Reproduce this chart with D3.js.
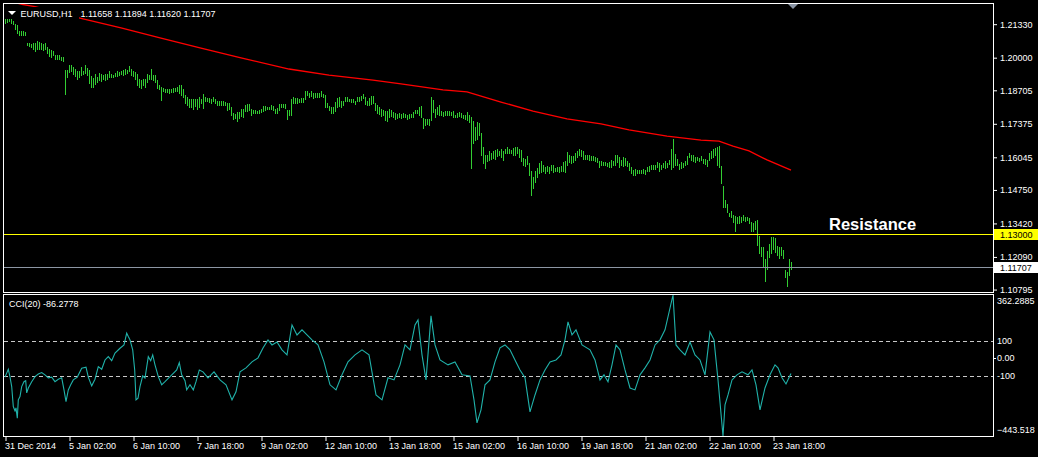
<!DOCTYPE html>
<html><head><meta charset="utf-8">
<script src="https://cdn.jsdelivr.net/npm/d3@7"></script>
<style>html,body{margin:0;padding:0;background:#000;overflow:hidden}</style>
</head><body>
<svg id="c" width="1038" height="457"></svg>
<script>
// ---------- DATA ----------
const symbolLabel = "EURUSD,H1";
const lastOHLC = [1.11658, 1.11894, 1.11620, 1.11707];
const highs = [
1.2152,1.2152,1.2155,1.2152,1.2147,1.2134,1.2129,1.2107,1.2105,1.2104,
1.2102,1.2059,1.2057,1.2054,1.2057,1.2057,1.2065,1.2062,1.2057,1.2054,
1.2057,1.2044,1.2033,1.2030,1.2028,1.2012,1.2009,1.2009,1.2004,1.2002,
1.1951,1.1951,1.1970,1.1970,1.1962,1.1954,1.1946,1.1948,1.1964,1.1948,
1.1970,1.1959,1.1951,1.1927,1.1919,1.1935,1.1925,1.1940,1.1935,1.1932,
1.1935,1.1935,1.1946,1.1935,1.1932,1.1938,1.1946,1.1943,1.1948,1.1951,
1.1954,1.1951,1.1967,1.1956,1.1948,1.1943,1.1935,1.1914,1.1911,1.1917,
1.1917,1.1935,1.1932,1.1956,1.1932,1.1930,1.1911,1.1893,1.1882,1.1880,
1.1877,1.1877,1.1877,1.1876,1.1880,1.1880,1.1882,1.1890,1.1890,1.1874,
1.1851,1.1843,1.1837,1.1837,1.1835,1.1837,1.1837,1.1845,
1.1835,1.1856,1.1843,1.1840,1.1840,1.1837,1.1845,1.1835,1.1827,1.1829,
1.1827,1.1827,1.1824,1.1821,1.1819,1.1803,1.1779,1.1776,1.1784,1.1784,
1.1795,1.1797,1.1813,1.1816,1.1816,1.1797,1.1792,1.1792,1.1790,1.1792,
1.1797,1.1808,1.1808,1.1805,1.1805,1.1811,1.1808,1.1795,1.1800,1.1816,
1.1816,1.1816,1.1815,1.1792,1.1792,1.1837,1.1845,1.1840,1.1840,1.1837,
1.1840,1.1839,1.1867,1.1867,1.1861,1.1867,1.1861,1.1859,1.1859,1.1861,
1.1867,1.1856,1.1853,1.1819,1.1808,1.1803,1.1803,1.1824,1.1840,1.1845,
1.1827,1.1829,1.1845,1.1845,1.1837,1.1835,1.1835,1.1829,1.1843,1.1843,
1.1848,1.1856,1.1843,1.1829,1.1840,1.1848,1.1848,1.1821,1.1811,1.1805,
1.1795,1.1792,1.1787,1.1790,1.1797,1.1792,1.1784,1.1779,1.1776,1.1779,
1.1776,1.1779,1.1776,1.1774,1.1776,1.1776,1.1784,1.1792,1.1792,1.1805,
1.1808,1.1761,1.1758,1.1755,1.1758,1.1843,1.1832,1.1795,1.1803,1.1811,
1.1787,1.1784,1.1787,1.1790,1.1790,1.1784,1.1787,1.1774,1.1779,1.1784,
1.1782,1.1771,1.1774,1.1784,1.1771,1.1763,1.1747,1.1726,1.1745,1.1740,
1.1702,1.1647,1.1612,1.1612,1.1631,1.1620,1.1628,1.1634,1.1636,1.1631,
1.1639,1.1628,1.1636,1.1644,1.1639,1.1634,1.1641,1.1644,1.1644,1.1639,
1.1634,1.1602,1.1599,1.1610,1.1583,1.1551,1.1527,1.1549,1.1562,1.1583,
1.1591,1.1575,1.1565,1.1570,1.1567,1.1573,1.1573,1.1562,1.1565,1.1565,
1.1570,1.1586,1.1589,1.1626,1.1615,1.1610,1.1610,1.1623,1.1631,1.1639,
1.1634,1.1628,1.1615,1.1612,1.1612,1.1610,1.1609,1.1607,1.1602,1.1591,
1.1589,1.1586,1.1586,1.1583,1.1586,1.1594,1.1591,1.1612,1.1615,1.1607,
1.1594,1.1604,1.1602,1.1591,1.1583,1.1567,1.1554,1.1557,1.1554,1.1554,
1.1554,1.1557,1.1554,1.1565,1.1570,1.1573,1.1575,1.1575,1.1586,1.1583,
1.1575,1.1581,1.1591,1.1583,1.1594,1.1636,1.1678,1.1618,1.1597,1.1578,
1.1586,1.1581,1.1591,1.1610,1.1623,1.1615,1.1612,1.1607,1.1604,1.1602,
1.1610,1.1599,1.1597,1.1594,1.1620,1.1628,1.1636,1.1641,1.1647,1.1649,
1.1570,1.1491,1.1435,1.1419,1.1385,1.1393,1.1377,1.1371,1.1369,1.1371,
1.1366,1.1374,1.1369,1.1366,1.1364,1.1348,1.1345,1.1351,1.1356,1.1292,
1.1247,1.1250,1.1200,1.1234,1.1260,1.1287,1.1287,1.1284,1.1252,1.1250,
1.1250,1.1237,1.1157,1.1149,1.1200,1.11894];
const lows = [
1.2139,1.2142,1.2144,1.2139,1.2134,1.2115,1.2097,1.2091,1.2091,1.2092,
1.2091,1.2051,1.2046,1.2041,1.2036,1.2028,1.2036,1.2033,1.2036,1.2030,
1.2033,1.2017,1.2007,1.2004,1.2009,1.1996,1.1996,1.1993,1.1991,1.1988,
1.1856,1.1922,1.1943,1.1946,1.1935,1.1927,1.1917,1.1922,1.1930,1.1935,
1.1938,1.1930,1.1898,1.1882,1.1885,1.1896,1.1903,1.1911,1.1909,1.1914,
1.1911,1.1917,1.1922,1.1925,1.1922,1.1927,1.1927,1.1930,1.1935,1.1932,
1.1935,1.1940,1.1946,1.1932,1.1927,1.1917,1.1893,1.1885,1.1880,1.1890,
1.1882,1.1903,1.1914,1.1917,1.1911,1.1903,1.1880,1.1874,1.1832,1.1867,
1.1864,1.1864,1.1861,1.1865,1.1864,1.1867,1.1869,1.1859,1.1851,1.1843,
1.1819,1.1813,1.1803,1.1805,1.1798,1.1808,1.1798,1.1805,
1.1819,1.1800,1.1827,1.1827,1.1824,1.1821,1.1827,1.1819,1.1811,1.1811,
1.1811,1.1813,1.1811,1.1792,1.1795,1.1774,1.1755,1.1761,1.1750,1.1761,
1.1768,1.1766,1.1790,1.1790,1.1792,1.1774,1.1779,1.1779,1.1779,1.1782,
1.1784,1.1790,1.1792,1.1795,1.1797,1.1797,1.1792,1.1782,1.1782,1.1792,
1.1803,1.1803,1.1801,1.1758,1.1771,1.1774,1.1819,1.1819,1.1821,1.1824,
1.1824,1.1823,1.1837,1.1851,1.1845,1.1848,1.1840,1.1843,1.1845,1.1845,
1.1848,1.1845,1.1805,1.1805,1.1792,1.1779,1.1782,1.1790,1.1803,1.1808,
1.1805,1.1813,1.1827,1.1829,1.1827,1.1824,1.1824,1.1816,1.1829,1.1829,
1.1832,1.1840,1.1816,1.1813,1.1813,1.1816,1.1819,1.1792,1.1779,1.1776,
1.1768,1.1774,1.1753,1.1747,1.1766,1.1768,1.1766,1.1755,1.1761,1.1766,
1.1761,1.1766,1.1766,1.1755,1.1761,1.1766,1.1766,1.1779,1.1779,1.1771,
1.1766,1.1721,1.1734,1.1737,1.1734,1.1753,1.1784,1.1763,1.1776,1.1774,
1.1771,1.1768,1.1771,1.1771,1.1774,1.1771,1.1766,1.1766,1.1766,1.1768,
1.1766,1.1761,1.1758,1.1753,1.1745,1.1562,1.1660,1.1673,1.1678,1.1692,
1.1612,1.1583,1.1562,1.1589,1.1594,1.1599,1.1602,1.1599,1.1610,1.1615,
1.1607,1.1594,1.1623,1.1623,1.1623,1.1620,1.1615,1.1612,1.1620,1.1605,
1.1591,1.1573,1.1570,1.1578,1.1533,1.1456,1.1483,1.1506,1.1525,1.1541,
1.1546,1.1551,1.1543,1.1551,1.1543,1.1554,1.1546,1.1551,1.1551,1.1546,
1.1549,1.1551,1.1546,1.1575,1.1586,1.1583,1.1586,1.1594,1.1607,1.1612,
1.1610,1.1597,1.1599,1.1597,1.1594,1.1594,1.1593,1.1589,1.1586,1.1567,
1.1575,1.1573,1.1575,1.1570,1.1567,1.1565,1.1573,1.1575,1.1586,1.1565,
1.1573,1.1570,1.1575,1.1570,1.1554,1.1541,1.1535,1.1535,1.1541,1.1541,
1.1543,1.1543,1.1538,1.1549,1.1551,1.1557,1.1557,1.1559,1.1567,1.1549,
1.1557,1.1565,1.1562,1.1565,1.1578,1.1559,1.1565,1.1575,1.1575,1.1559,
1.1562,1.1567,1.1573,1.1578,1.1604,1.1594,1.1591,1.1586,1.1594,1.1589,
1.1594,1.1581,1.1578,1.1570,1.1594,1.1602,1.1607,1.1615,1.1575,1.1565,
1.1504,1.1408,1.1406,1.1387,1.1371,1.1366,1.1348,1.1313,1.1342,1.1345,
1.1348,1.1356,1.1353,1.1356,1.1345,1.1313,1.1313,1.1321,1.1255,1.1223,
1.1213,1.1168,1.1115,1.1162,1.1210,1.1223,1.1242,1.1229,1.1218,1.1205,
1.1215,1.1205,1.1131,1.1094,1.1136,1.11620];
// moving average (bar index, price)
const maPoints = [[0,1.2228],[9,1.2211],[15,1.2203],[38,1.2156],[58,1.2118],[78,1.2078],[98,1.2038],[118,1.1999],[142,1.1955],[162,1.1931],[184,1.1911],[198,1.1896],[219,1.1872],[231,1.1864],[248,1.1824],[264,1.1788],[281,1.1757],[298,1.1737],[312,1.1713],[331,1.1689],[348,1.1673],[357,1.1669],[364,1.1649],[372,1.1630],[381,1.1594],[393,1.1554]];
// CCI(20) (bar index, value)
const cciPoints = [[0,-107],[1.65,-62],[2.5,-106],[3.35,-161],[4.15,-275],[5,-300],[5.5,-283],[6.15,-342],[6.65,-237],[7.5,-218],[8.35,-161],[9.5,-133],[10.35,-127],[10.85,-197],[11.65,-169],[13.35,-133],[15,-104],[16.65,-89],[18.35,-81],[20,-94],[21.65,-111],[23.35,-107],[25,-133],[26.65,-119],[28.35,-111],[29.5,-180],[30.5,-247],[31.65,-180],[32.85,-151],[34.15,-123],[36.15,-107],[38.35,-56],[40.5,-50],[41.65,-107],[43.35,-157],[45,-119],[46.65,-47],[48.35,-62],[50,-9],[51.65,10],[53.35,-13],[55,30],[57.5,58],[59.5,77],[60.85,144],[61.65,125],[62.5,106],[63.85,49],[64.85,-66],[65.5,-237],[66.5,-227],[67.5,-161],[68.85,-100],[70,-113],[71.65,10],[72.85,-13],[73.85,20],[75,-37],[76.65,-104],[78.35,-151],[80,-133],[82.5,-104],[84.15,-85],[85.85,-66],[87.15,-24],[88.35,-94],[90,-127],[90.85,-180],[92.5,-151],[94.15,-180],[95.5,-133],[97.15,-66],
[99,-77],[101.5,-111],[104.5,-77],[107.5,-123],[110.5,-151],[113.5,-237],[115.5,-191],[117.5,-77],[120.5,-54],[123.5,-20],[126.5,3],[129,60],[131.5,106],[133.5,77],[136,94],[138.5,49],[141,20],[143.5,191],[146,134],[148.5,163],[151,134],[153.5,106],[156.5,77],[159.5,-20],[162.5,-151],[165.5,-180],[168.5,-94],[171.5,-20],[175,20],[178.5,49],[182,20],[185.5,-209],[188.5,-237],[191.5,-111],[194.5,-123],[197.5,-37],[200,77],[202.5,49],[205,191],[206.5,220],[208.5,20],[210.5,-123],[213,243],[215,77],[217.5,-9],[221.5,-37],[225,-20],[228.5,-94],[232.5,-100],[234.5,-237],[236,-369],[238,-294],[240,-151],[242.5,-123],[245,-20],[247.5,60],[250,77],[252.5,49],[255,-9],[257.5,-66],[260,-111],[262.5,-306],[265,-209],[267.5,-123],[270,-66],[272.5,-20],[275.5,-9],[278,20],[280,106],[281.5,209],[283.5,134],[285.5,163],[288.5,77],[292.5,49],[295,-9],[297.5,-123],[299.5,-94],[301.5,-134],[303.5,-37],[305.5,77],[307.5,49],[310,-66],[312.5,-169],[315,-180],[317.5,-94],[320,-54],[322.5,-9],[325,77],[327.5,106],[330,163],[334,362.2885],[335.5,77],[337.5,49],[340,20],[342.5,94],[345,20],[347.5,-9],[350,-94],[352.5,151],[354.5,106],[356.5,-123],[359,-443.518],[360,-266],[361.5,-209],[363.5,-123],[366,-94],[368.5,-77],[371.5,-94],[373.5,-66],[375.5,-151],[377.5,-294],[380,-169],[382.5,-94],[385,-37],[386.5,-54],[388.5,-111],[390.5,-146],[393,-86.2778]];
const cciLast = -86.2778;
const priceTicks = [1.21330, 1.20000, 1.18705, 1.17375, 1.16045, 1.14750, 1.13420, 1.12090, 1.10795];
const priceRange = [1.10698, 1.22131];
const resistanceLevel = 1.13000;
const bidLevel = 1.11707;
const cciRange = [-443.518, 362.2885];
const cciLevels = [100, -100];
const timeTickIdx = [0,32,64,96,128,160,192,224,256,288,320,352,384];
const timeLabels = ["31 Dec 2014","5 Jan 02:00","6 Jan 10:00","7 Jan 18:00","9 Jan 02:00","12 Jan 10:00","13 Jan 18:00","15 Jan 02:00","16 Jan 10:00","19 Jan 18:00","21 Jan 02:00","22 Jan 10:00","23 Jan 18:00"];

// ---------- LAYOUT ----------
const W = 1038, H = 457;
const L = 4, R = 993;
const mainTop = 4, mainBot = 292;
const cciTop = 295, cciBot = 436;
const FONT = "'Liberation Sans', Arial, sans-serif";
const BAR = "#32cd32", MA = "#ff0000", CCI = "#20b2aa";

const svg = d3.select("#c");
svg.append("rect").attr("width", W).attr("height", H).attr("fill", "#000");

const x = d3.scaleLinear().domain([0, highs.length - 1]).range([5, 5 + 2 * (highs.length - 1)]);
const y = d3.scaleLinear().domain(priceRange).range([mainBot, mainTop]);
const yc = d3.scaleLinear().domain(cciRange).range([cciBot, cciTop]);

const defs = svg.append("defs");
defs.append("clipPath").attr("id", "clipMain").append("rect").attr("x", L).attr("y", mainTop).attr("width", R - L).attr("height", mainBot - mainTop);
defs.append("clipPath").attr("id", "clipCci").append("rect").attr("x", L).attr("y", cciTop - 1).attr("width", R - L).attr("height", cciBot - cciTop + 2);

// ---- main price window ----
const gMain = svg.append("g").attr("clip-path", "url(#clipMain)");
gMain.selectAll("line.bar").data(highs).join("line").attr("class", "bar")
  .attr("x1", (d, i) => Math.round(x(i)) + 0.5).attr("x2", (d, i) => Math.round(x(i)) + 0.5)
  .attr("y1", d => Math.round(y(d)))
  .attr("y2", (d, i) => Math.max(Math.round(y(lows[i])), Math.round(y(d)) + 1) + 1)
  .attr("stroke", BAR).attr("stroke-width", 1).attr("shape-rendering", "crispEdges");

gMain.append("path").datum(maPoints)
  .attr("d", d3.line().x(d => x(d[0])).y(d => y(d[1])))
  .attr("fill", "none").attr("stroke", MA).attr("stroke-width", 1.3);

// horizontal lines
gMain.append("line").attr("x1", L).attr("x2", R).attr("y1", Math.round(y(resistanceLevel)) + 0.5).attr("y2", Math.round(y(resistanceLevel)) + 0.5)
  .attr("stroke", "#ffff00").attr("stroke-width", 1).attr("shape-rendering", "crispEdges");
gMain.append("line").attr("x1", L).attr("x2", R).attr("y1", Math.round(y(bidLevel)) + 0.5).attr("y2", Math.round(y(bidLevel)) + 0.5)
  .attr("stroke", "#8c96a4").attr("stroke-width", 1).attr("shape-rendering", "crispEdges");

// Resistance text
svg.append("text").attr("x", 829).attr("y", y(resistanceLevel) - 4).text("Resistance")
  .attr("font-family", FONT).attr("font-weight", "bold").attr("font-size", 16.5).attr("fill", "#fff");

// header (symbol label hides MA behind it)
svg.append("rect").attr("x", L).attr("y", 7).attr("width", 75).attr("height", 12).attr("fill", "#000");
svg.append("path").attr("d", "M8,11 L16,11 L12,15 Z").attr("fill", "#fff");
svg.append("text").attr("x", 20.5).attr("y", 16.5).text(symbolLabel)
  .attr("font-family", FONT).attr("font-size", 9).attr("fill", "#fff");
svg.append("text").attr("x", 80.5).attr("y", 16.5).text(lastOHLC.map(v => v.toFixed(5)).join(" "))
  .attr("font-family", FONT).attr("font-size", 9).attr("fill", "#fff");

// chart shift marker
svg.append("path").attr("d", "M788,4 L798,4 L793,9 Z").attr("fill", "#8a95a5");

// ---- CCI window ----
const gC = svg.append("g").attr("clip-path", "url(#clipCci)");
gC.selectAll("line.lvl").data(cciLevels).join("line").attr("class", "lvl")
  .attr("x1", L).attr("x2", R)
  .attr("y1", d => Math.round(yc(d)) + 0.5).attr("y2", d => Math.round(yc(d)) + 0.5)
  .attr("stroke", "#c8c8c8").attr("stroke-width", 1).attr("stroke-dasharray", "4,3").attr("shape-rendering", "crispEdges");
gC.append("path").datum(cciPoints)
  .attr("d", d3.line().x(d => x(d[0])).y(d => yc(d[1])))
  .attr("fill", "none").attr("stroke", CCI).attr("stroke-width", 1.1);
svg.append("text").attr("x", 9).attr("y", 307).text("CCI(20) " + cciLast.toFixed(4))
  .attr("font-family", FONT).attr("font-size", 9).attr("fill", "#fff");

// ---- frames ----
svg.append("rect").attr("x", 3.5).attr("y", 3.5).attr("width", R - 3).attr("height", mainBot - 3)
  .attr("fill", "none").attr("stroke", "#fff").attr("shape-rendering", "crispEdges");
svg.append("rect").attr("x", 3.5).attr("y", cciTop - 0.5).attr("width", R - 3).attr("height", cciBot - cciTop + 1)
  .attr("fill", "none").attr("stroke", "#fff").attr("shape-rendering", "crispEdges");

// ---- price axis ----
const yAxis = d3.axisRight(y).tickValues(priceTicks).tickFormat(d3.format(".5f")).tickSize(3).tickPadding(3);
const gy = svg.append("g").attr("transform", `translate(${R + 1},0)`).call(yAxis);
gy.select(".domain").remove();
gy.selectAll("line").attr("stroke", "#fff");
gy.selectAll("text").attr("fill", "#fff").attr("font-family", FONT).attr("font-size", 9);

// highlighted price labels
[[resistanceLevel, "#ffff00"], [bidLevel, "#ffffff"]].forEach(([v, c]) => {
  const yy = Math.round(y(v));
  svg.append("rect").attr("x", R + 1).attr("y", yy - 5).attr("width", W - R - 1).attr("height", 11).attr("fill", c);
  svg.append("text").attr("x", R + 7).attr("y", yy + 3.5).text(v.toFixed(5))
    .attr("font-family", FONT).attr("font-size", 9).attr("fill", "#000");
});

// ---- CCI axis ----
const cciLabels = [[cciRange[1], d3.format(".4f")(cciRange[1])], [100, "100"], [0, "0.00"], [-100, "-100"], [cciRange[0], d3.format(".3f")(cciRange[0])]];
cciLabels.forEach(([v, t]) => {
  const yy = Math.min(Math.max(yc(v) + 3, cciTop + 9), cciBot - 3);
  svg.append("text").attr("x", R + 4).attr("y", yy).text(t)
    .attr("font-family", FONT).attr("font-size", 9).attr("fill", "#fff");
});
svg.append("line").attr("x1", R + 1).attr("x2", R + 3).attr("y1", Math.round(yc(0)) + 0.5).attr("y2", Math.round(yc(0)) + 0.5).attr("stroke", "#fff");

// ---- time axis ----
const xAxis = d3.axisBottom(x).tickValues(timeTickIdx).tickFormat((d, i) => timeLabels[i]).tickSize(4).tickPadding(2);
const gx = svg.append("g").attr("transform", `translate(0,${cciBot + 1})`).call(xAxis);
gx.select(".domain").remove();
gx.selectAll("line").attr("stroke", "#fff").attr("transform", "translate(0.5,0)");
gx.selectAll("text").attr("fill", "#fff").attr("font-family", FONT).attr("font-size", 9).attr("text-anchor", "start").attr("dx", -0.5);
</script>
</body></html>
